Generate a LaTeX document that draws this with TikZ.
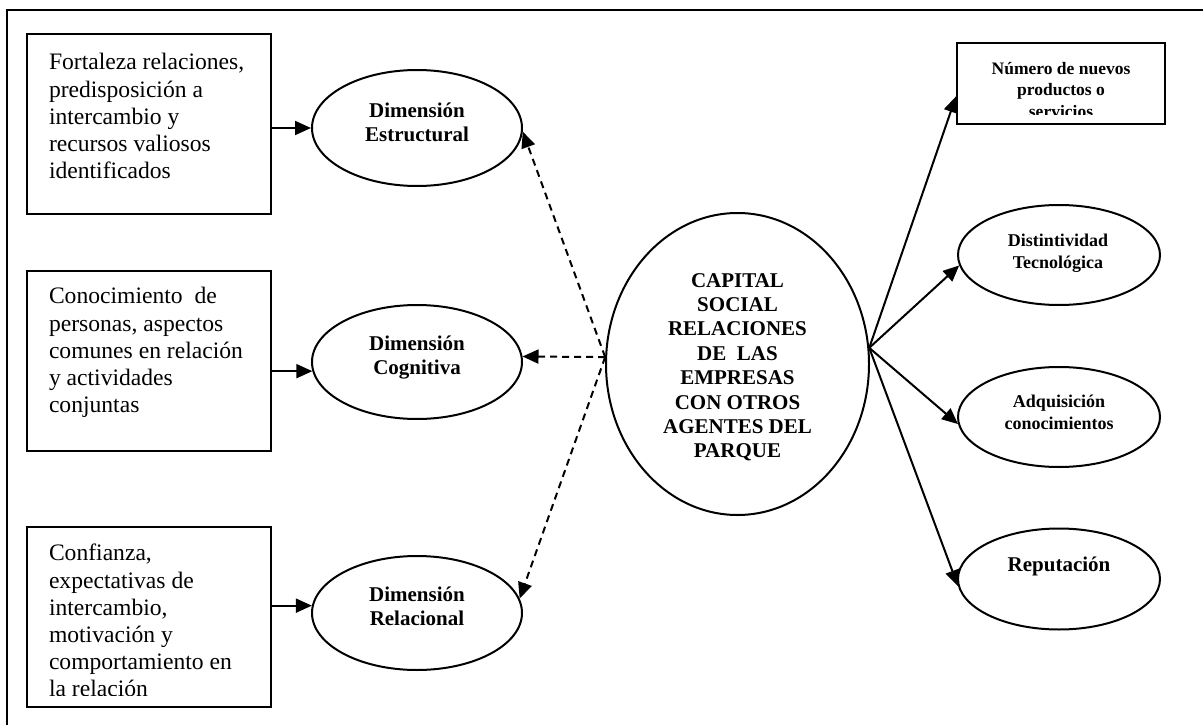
\documentclass[tikz,border=0pt]{standalone}
\usepackage{fontspec}
\setmainfont{Liberation Serif}
\usetikzlibrary{arrows.meta,shapes.geometric}
% fixed height for the first line of each text block
\newcommand\firstln{\rule{0pt}{0.8em}}
\begin{document}
\begin{tikzpicture}[x=1pt,y=-1pt,
  line width=2pt,
  box/.style={draw,rectangle,inner sep=0pt,minimum width=244pt,minimum height=180pt},
  oval/.style={draw,ellipse,inner sep=0pt},
  boxtxt/.style={anchor=north west,inner sep=0pt,align=left,
    font=\fontsize{23.6}{27.2}\selectfont},
  bigtxt/.style={anchor=north,inner sep=0pt,align=center,
    font=\fontsize{21}{24.4}\selectfont\bfseries},
  smalltxt/.style={anchor=north,inner sep=0pt,align=center,
    font=\fontsize{18}{22}\selectfont\bfseries},
  arr/.style={-{Triangle[length=16pt,width=14pt]}},
  dasharr/.style={arr,dash pattern=on 7pt off 5pt}
]
\useasboundingbox (0,0) rectangle (1203,725);

% outer frame
\draw (1203,10) -- (7,10) -- (7,725);

% input boxes
\node[box] (b1) at (149,124) {};
\node[box] (b2) at (149,361) {};
\node[box] (b3) at (149,617) {};
\node[boxtxt] (t1) at (48,50.1) {\firstln Fortaleza relaciones,\\predisposición a\\intercambio y\\recursos valiosos\\identificados};
\node[boxtxt] (t2) at (48,284.1) {\firstln Conocimiento~ de\\personas, aspectos\\comunes en relación\\y actividades\\conjuntas};
\begin{scope}
  \clip (27,527) rectangle (271,695.5);
  \node[boxtxt] (t3) at (48,541.1) {\firstln Confianza,\\expectativas de\\intercambio,\\motivación y\\comportamiento en\\la relación};
\end{scope}

% dimensions
\node[oval,minimum width=210pt,minimum height=116pt] (e1) at (417,128) {};
\node[oval,minimum width=210pt,minimum height=114pt] (e2) at (417,362) {};
\node[oval,minimum width=210pt,minimum height=114pt] (e3) at (417,613) {};
\node[bigtxt] (l1) at (417,99.2) {\firstln Dimensión\\Estructural};
\node[bigtxt] (l2) at (417,332.2) {\firstln Dimensión\\Cognitiva};
\node[bigtxt] (l3) at (417,583.2) {\firstln Dimensión\\Relacional};

% central construct
\node[oval,minimum width=263pt,minimum height=302pt] (c) at (737.5,364) {};
\node[bigtxt] (lc) at (737.5,269.2) {\firstln CAPITAL\\SOCIAL\\RELACIONES\\DE~ LAS\\EMPRESAS\\CON OTROS\\AGENTES DEL\\PARQUE};

% outcomes
\node[draw,rectangle,inner sep=0pt,minimum width=208pt,minimum height=81pt] (nb) at (1061,83.5) {};
\begin{scope}
  \clip (957,43) rectangle (1165,114.5);
  \node[smalltxt,font=\fontsize{17.5}{21.7}\selectfont\bfseries] (ln) at (1061,59) {\firstln Número de nuevos\\productos o\\servicios};
\end{scope}
\node[oval,minimum width=202pt,minimum height=100pt] (d1) at (1059,255) {};
\node[oval,minimum width=202pt,minimum height=100pt] (d2) at (1059,417) {};
\node[oval,minimum width=202pt,minimum height=101pt] (d3) at (1059,579) {};
\node[smalltxt] (ld1) at (1058,230.6) {\firstln Distintividad\\Tecnológica};
\node[smalltxt] (ld2) at (1059,391.6) {\firstln Adquisición\\conocimientos};
\node[bigtxt] (ld3) at (1059,553.9) {\firstln Reputación};

% indicator arrows
\draw[arr] (b1.east |- e1.west) -- (e1.west);
\draw[arr] (b2.east |- e2.185) -- (e2.185);
\draw[arr] (b3.east |- e3.176) -- (e3.176);

% dashed links to the dimensions
\draw[dasharr] (c.177) -- (e1.358);
\draw[dasharr] (c.177) -- (e2.3);
\draw[dasharr] (c.177) -- (e3.8);

% links to the outcomes
\draw[arr] (c.7) -- (nb.187.4);
\draw[arr] (c.7) -- (d1.186);
\draw[arr] (c.7) -- (d2.184.5);
\draw[arr] (c.7) -- (d3.184.5);
\end{tikzpicture}
\end{document}
